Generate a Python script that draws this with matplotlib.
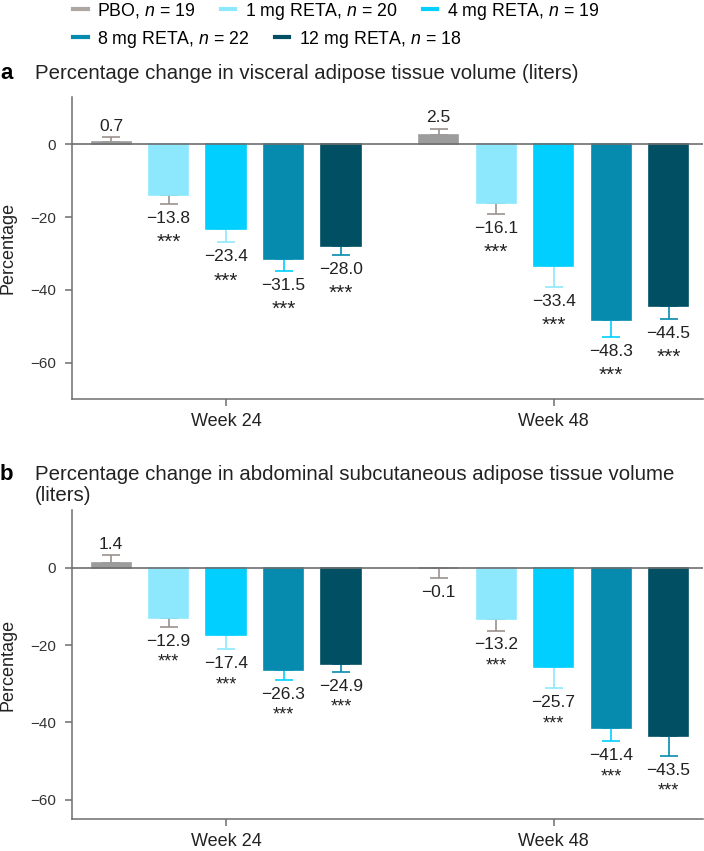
import numpy as np
import matplotlib
matplotlib.use('Agg')
import matplotlib.pyplot as plt
from matplotlib.lines import Line2D

plt.rcParams['font.family'] = ['Liberation Sans', 'DejaVu Sans']
plt.rcParams['mathtext.fontset'] = 'custom'
plt.rcParams['mathtext.it'] = 'Liberation Sans:italic'
plt.rcParams['mathtext.rm'] = 'Liberation Sans'

# arms and sample sizes
arms = ['PBO', '1 mg RETA', '4 mg RETA', '8 mg RETA', '12 mg RETA']
n_per_arm = [19, 20, 19, 22, 18]
weeks = ['Week 24', 'Week 48']
sig = ['', '***', '***', '***', '***']

# panel a: visceral adipose tissue, % change (mean, error)
vat_w24 = [0.7, -13.8, -23.4, -31.5, -28.0]
vat_w24_err = [1.2, 2.6, 3.5, 3.2, 2.3]
vat_w48 = [2.5, -16.1, -33.4, -48.3, -44.5]
vat_w48_err = [1.8, 3.0, 5.7, 4.6, 3.5]

# panel b: abdominal subcutaneous adipose tissue, % change (mean, error)
sat_w24 = [1.4, -12.9, -17.4, -26.3, -24.9]
sat_w24_err = [1.9, 2.3, 3.7, 2.6, 2.0]
sat_w48 = [-0.1, -13.2, -25.7, -41.4, -43.5]
sat_w48_err = [2.4, 3.0, 5.4, 3.5, 5.1]

colors = ['#9c9c9c', '#8ee8fd', '#00cfff', '#068bae', '#004f63']
err_colors = ['#9a918c', '#9a918c', '#8ee8fd', '#00cfff', '#068bae']
legend_colors = ['#ada6a2', '#8ee8fd', '#00cfff', '#068bae', '#004f63']
axis_gray = '#6e6e6e'
text_col = '#222222'


def draw_panel(ax, w24, w24_err, w48, w48_err, ylim, star_fs, star_off):
    group_x = np.array([0.0, 5.7])
    offsets = np.arange(5) - 2
    for g, (vals, errs) in enumerate([(w24, w24_err), (w48, w48_err)]):
        for i in range(5):
            x = group_x[g] + offsets[i]
            v, e = vals[i], errs[i]
            ax.bar(x, v, width=0.68, color=colors[i], edgecolor=colors[i],
                   linewidth=1.2, zorder=2)
            if v >= 0:
                yerr = [[0], [e]]
            else:
                yerr = [[e], [0]]
            ax.errorbar(x, v, yerr=yerr, fmt='none', ecolor=err_colors[i],
                        elinewidth=1.2, capsize=6.5, capthick=1.2, zorder=1)
            txt = f'{v:.1f}'.replace('-', '\u2212')
            if v >= 0:
                ax.annotate(txt, (x, v + e), xytext=(0, 2.5), textcoords='offset points',
                            ha='center', va='bottom', fontsize=12.5, color=text_col)
            else:
                ax.annotate(txt, (x, v - e), xytext=(0, -5), textcoords='offset points',
                            ha='center', va='top', fontsize=12.5, color=text_col)
                if sig[i]:
                    ax.annotate(sig[i], (x, v - e), xytext=(0, star_off),
                                textcoords='offset points', ha='center', va='top',
                                fontsize=star_fs, color=text_col)
    ax.axhline(0, color=axis_gray, lw=1.2, zorder=3)
    ax.set_xlim(-2.68, 8.3)
    ax.set_ylim(ylim)
    ax.set_yticks([-60, -40, -20, 0])
    ax.set_xticks(group_x)
    ax.set_xticklabels(weeks)
    for s in ['top', 'right']:
        ax.spines[s].set_visible(False)
    for s in ['left', 'bottom']:
        ax.spines[s].set_color(axis_gray)
        ax.spines[s].set_linewidth(1.1)
    ax.tick_params(axis='y', length=5, width=1.1, color=axis_gray, labelsize=11,
                   labelcolor='#333333', pad=6.5)
    ax.tick_params(axis='x', length=5, width=1.1, color=axis_gray, labelsize=13,
                   labelcolor=text_col, pad=5)
    ax.set_ylabel('Percentage', fontsize=13, color=text_col)
    ax.yaxis.set_label_coords(-0.088, 0.5)


fig = plt.figure(figsize=(7.04, 8.51), dpi=100)
ax_a = fig.add_axes([0.1023, 0.5311, 0.8963, 0.3549])
ax_b = fig.add_axes([0.1023, 0.0376, 0.8963, 0.3631])

draw_panel(ax_a, vat_w24, vat_w24_err, vat_w48, vat_w48_err, (-70, 13), 15, -21)
draw_panel(ax_b, sat_w24, sat_w24_err, sat_w48, sat_w48_err, (-65, 15), 13, -19.5)

# panel titles
fig.text(0.0, 1 - 79 / 851, 'a', fontsize=16, weight='bold', va='baseline')
fig.text(35 / 704, 1 - 79 / 851,
         'Percentage change in visceral adipose tissue volume (liters)',
         fontsize=14.7, va='baseline', color=text_col)
fig.text(0.0, 1 - 480 / 851, 'b', fontsize=16, weight='bold', va='baseline')
fig.text(35 / 704, 1 - 480 / 851,
         'Percentage change in abdominal subcutaneous adipose tissue volume',
         fontsize=14.7, va='baseline', color=text_col)
fig.text(35 / 704, 1 - 501 / 851, '(liters)',
         fontsize=14.7, va='baseline', color=text_col)

# legend in two rows
labels = [f'{a}, $n$ = {n}' for a, n in zip(arms, n_per_arm)]
handles = [Line2D([], [], color=c, lw=3) for c in legend_colors]
leg_kw = dict(frameon=False, borderpad=0, borderaxespad=0, handlelength=0.83,
              handletextpad=0.55, columnspacing=1.4, fontsize=12.75,
              loc='center left')
fig.legend(handles[:3], labels[:3], ncol=3, bbox_to_anchor=(73 / 704, 1 - 11 / 851),
           **leg_kw)
fig.legend(handles[3:], labels[3:], ncol=2, bbox_to_anchor=(73 / 704, 1 - 39 / 851),
           **leg_kw)

fig.savefig('out.png', dpi=100)
